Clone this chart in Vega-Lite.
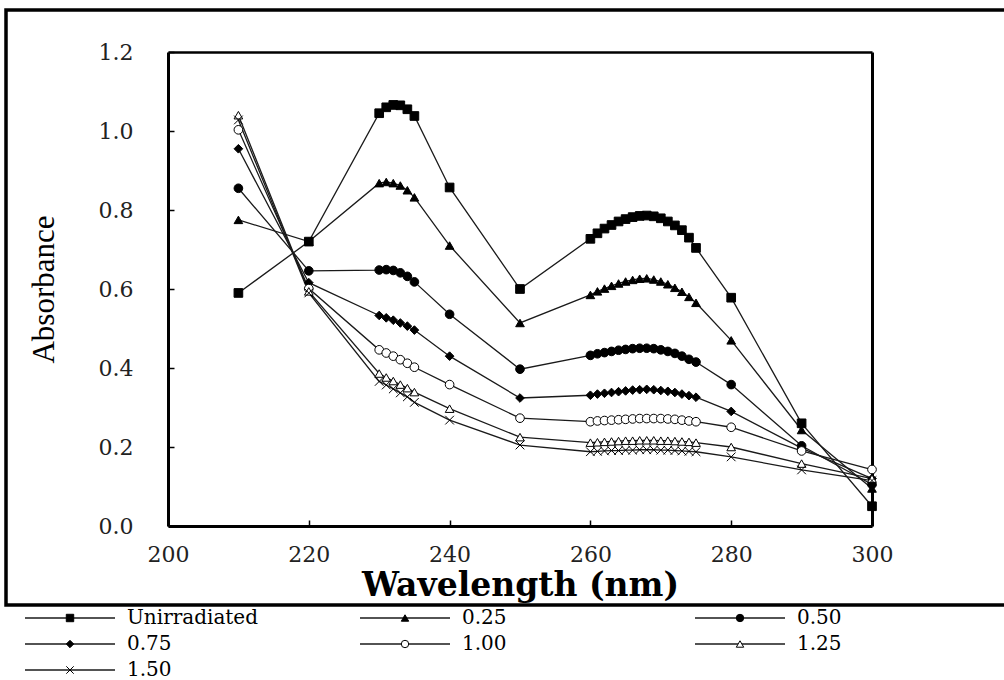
{
  "$schema": "https://vega.github.io/schema/vega-lite/v6.json",
  "width": 1004,
  "height": 595,
  "autosize": {"type": "none"},
  "padding": {"left": 6, "top": 10, "right": 0, "bottom": 75},
  "background": "white",
  "config": {
    "view": {"stroke": "black", "strokeWidth": 3.5, "fill": null},
    "axis": {"grid": false, "labelFlush": false}
  },
  "data": {"values": [
    {"s":"Unirradiated","w":210,"a":0.59},{"s":"Unirradiated","w":220,"a":0.72},{"s":"Unirradiated","w":230,"a":1.045},{"s":"Unirradiated","w":231,"a":1.06},{"s":"Unirradiated","w":232,"a":1.066},{"s":"Unirradiated","w":233,"a":1.065},{"s":"Unirradiated","w":234,"a":1.055},{"s":"Unirradiated","w":235,"a":1.038},{"s":"Unirradiated","w":240,"a":0.857},{"s":"Unirradiated","w":250,"a":0.6},{"s":"Unirradiated","w":260,"a":0.727},{"s":"Unirradiated","w":261,"a":0.741},{"s":"Unirradiated","w":262,"a":0.753},{"s":"Unirradiated","w":263,"a":0.762},{"s":"Unirradiated","w":264,"a":0.771},{"s":"Unirradiated","w":265,"a":0.777},{"s":"Unirradiated","w":266,"a":0.782},{"s":"Unirradiated","w":267,"a":0.785},{"s":"Unirradiated","w":268,"a":0.786},{"s":"Unirradiated","w":269,"a":0.784},{"s":"Unirradiated","w":270,"a":0.779},{"s":"Unirradiated","w":271,"a":0.771},{"s":"Unirradiated","w":272,"a":0.761},{"s":"Unirradiated","w":273,"a":0.749},{"s":"Unirradiated","w":274,"a":0.73},{"s":"Unirradiated","w":275,"a":0.704},{"s":"Unirradiated","w":280,"a":0.578},{"s":"Unirradiated","w":290,"a":0.26},{"s":"Unirradiated","w":300,"a":0.05},
    {"s":"0.25","w":210,"a":0.775},{"s":"0.25","w":220,"a":0.72},{"s":"0.25","w":230,"a":0.868},{"s":"0.25","w":231,"a":0.871},{"s":"0.25","w":232,"a":0.868},{"s":"0.25","w":233,"a":0.862},{"s":"0.25","w":234,"a":0.85},{"s":"0.25","w":235,"a":0.832},{"s":"0.25","w":240,"a":0.71},{"s":"0.25","w":250,"a":0.514},{"s":"0.25","w":260,"a":0.585},{"s":"0.25","w":261,"a":0.594},{"s":"0.25","w":262,"a":0.601},{"s":"0.25","w":263,"a":0.608},{"s":"0.25","w":264,"a":0.614},{"s":"0.25","w":265,"a":0.619},{"s":"0.25","w":266,"a":0.623},{"s":"0.25","w":267,"a":0.626},{"s":"0.25","w":268,"a":0.627},{"s":"0.25","w":269,"a":0.624},{"s":"0.25","w":270,"a":0.619},{"s":"0.25","w":271,"a":0.612},{"s":"0.25","w":272,"a":0.603},{"s":"0.25","w":273,"a":0.593},{"s":"0.25","w":274,"a":0.58},{"s":"0.25","w":275,"a":0.565},{"s":"0.25","w":280,"a":0.47},{"s":"0.25","w":290,"a":0.243},{"s":"0.25","w":300,"a":0.095},
    {"s":"0.50","w":210,"a":0.855},{"s":"0.50","w":220,"a":0.646},{"s":"0.50","w":230,"a":0.648},{"s":"0.50","w":231,"a":0.649},{"s":"0.50","w":232,"a":0.647},{"s":"0.50","w":233,"a":0.641},{"s":"0.50","w":234,"a":0.632},{"s":"0.50","w":235,"a":0.618},{"s":"0.50","w":240,"a":0.536},{"s":"0.50","w":250,"a":0.397},{"s":"0.50","w":260,"a":0.432},{"s":"0.50","w":261,"a":0.436},{"s":"0.50","w":262,"a":0.439},{"s":"0.50","w":263,"a":0.442},{"s":"0.50","w":264,"a":0.445},{"s":"0.50","w":265,"a":0.447},{"s":"0.50","w":266,"a":0.449},{"s":"0.50","w":267,"a":0.45},{"s":"0.50","w":268,"a":0.45},{"s":"0.50","w":269,"a":0.449},{"s":"0.50","w":270,"a":0.446},{"s":"0.50","w":271,"a":0.442},{"s":"0.50","w":272,"a":0.437},{"s":"0.50","w":273,"a":0.43},{"s":"0.50","w":274,"a":0.422},{"s":"0.50","w":275,"a":0.415},{"s":"0.50","w":280,"a":0.358},{"s":"0.50","w":290,"a":0.203},{"s":"0.50","w":300,"a":0.105},
    {"s":"0.75","w":210,"a":0.955},{"s":"0.75","w":220,"a":0.616},{"s":"0.75","w":230,"a":0.533},{"s":"0.75","w":231,"a":0.527},{"s":"0.75","w":232,"a":0.521},{"s":"0.75","w":233,"a":0.514},{"s":"0.75","w":234,"a":0.506},{"s":"0.75","w":235,"a":0.496},{"s":"0.75","w":240,"a":0.43},{"s":"0.75","w":250,"a":0.324},{"s":"0.75","w":260,"a":0.331},{"s":"0.75","w":261,"a":0.334},{"s":"0.75","w":262,"a":0.336},{"s":"0.75","w":263,"a":0.338},{"s":"0.75","w":264,"a":0.34},{"s":"0.75","w":265,"a":0.342},{"s":"0.75","w":266,"a":0.344},{"s":"0.75","w":267,"a":0.345},{"s":"0.75","w":268,"a":0.346},{"s":"0.75","w":269,"a":0.345},{"s":"0.75","w":270,"a":0.343},{"s":"0.75","w":271,"a":0.341},{"s":"0.75","w":272,"a":0.338},{"s":"0.75","w":273,"a":0.334},{"s":"0.75","w":274,"a":0.33},{"s":"0.75","w":275,"a":0.326},{"s":"0.75","w":280,"a":0.29},{"s":"0.75","w":290,"a":0.197},{"s":"0.75","w":300,"a":0.12},
    {"s":"1.00","w":210,"a":1.003},{"s":"1.00","w":220,"a":0.601},{"s":"1.00","w":230,"a":0.446},{"s":"1.00","w":231,"a":0.438},{"s":"1.00","w":232,"a":0.43},{"s":"1.00","w":233,"a":0.421},{"s":"1.00","w":234,"a":0.412},{"s":"1.00","w":235,"a":0.402},{"s":"1.00","w":240,"a":0.358},{"s":"1.00","w":250,"a":0.273},{"s":"1.00","w":260,"a":0.264},{"s":"1.00","w":261,"a":0.266},{"s":"1.00","w":262,"a":0.267},{"s":"1.00","w":263,"a":0.268},{"s":"1.00","w":264,"a":0.269},{"s":"1.00","w":265,"a":0.27},{"s":"1.00","w":266,"a":0.271},{"s":"1.00","w":267,"a":0.272},{"s":"1.00","w":268,"a":0.272},{"s":"1.00","w":269,"a":0.272},{"s":"1.00","w":270,"a":0.272},{"s":"1.00","w":271,"a":0.271},{"s":"1.00","w":272,"a":0.27},{"s":"1.00","w":273,"a":0.268},{"s":"1.00","w":274,"a":0.266},{"s":"1.00","w":275,"a":0.264},{"s":"1.00","w":280,"a":0.25},{"s":"1.00","w":290,"a":0.19},{"s":"1.00","w":300,"a":0.143},
    {"s":"1.25","w":210,"a":1.04},{"s":"1.25","w":220,"a":0.594},{"s":"1.25","w":230,"a":0.386},{"s":"1.25","w":231,"a":0.376},{"s":"1.25","w":232,"a":0.367},{"s":"1.25","w":233,"a":0.358},{"s":"1.25","w":234,"a":0.349},{"s":"1.25","w":235,"a":0.339},{"s":"1.25","w":240,"a":0.297},{"s":"1.25","w":250,"a":0.225},{"s":"1.25","w":260,"a":0.211},{"s":"1.25","w":261,"a":0.212},{"s":"1.25","w":262,"a":0.213},{"s":"1.25","w":263,"a":0.214},{"s":"1.25","w":264,"a":0.215},{"s":"1.25","w":265,"a":0.216},{"s":"1.25","w":266,"a":0.216},{"s":"1.25","w":267,"a":0.217},{"s":"1.25","w":268,"a":0.217},{"s":"1.25","w":269,"a":0.217},{"s":"1.25","w":270,"a":0.216},{"s":"1.25","w":271,"a":0.216},{"s":"1.25","w":272,"a":0.215},{"s":"1.25","w":273,"a":0.214},{"s":"1.25","w":274,"a":0.213},{"s":"1.25","w":275,"a":0.211},{"s":"1.25","w":280,"a":0.2},{"s":"1.25","w":290,"a":0.158},{"s":"1.25","w":300,"a":0.12},
    {"s":"1.50","w":210,"a":1.028},{"s":"1.50","w":220,"a":0.59},{"s":"1.50","w":230,"a":0.366},{"s":"1.50","w":231,"a":0.357},{"s":"1.50","w":232,"a":0.347},{"s":"1.50","w":233,"a":0.337},{"s":"1.50","w":234,"a":0.327},{"s":"1.50","w":235,"a":0.313},{"s":"1.50","w":240,"a":0.268},{"s":"1.50","w":250,"a":0.205},{"s":"1.50","w":260,"a":0.188},{"s":"1.50","w":261,"a":0.189},{"s":"1.50","w":262,"a":0.19},{"s":"1.50","w":263,"a":0.191},{"s":"1.50","w":264,"a":0.191},{"s":"1.50","w":265,"a":0.192},{"s":"1.50","w":266,"a":0.192},{"s":"1.50","w":267,"a":0.193},{"s":"1.50","w":268,"a":0.193},{"s":"1.50","w":269,"a":0.193},{"s":"1.50","w":270,"a":0.192},{"s":"1.50","w":271,"a":0.192},{"s":"1.50","w":272,"a":0.191},{"s":"1.50","w":273,"a":0.19},{"s":"1.50","w":274,"a":0.189},{"s":"1.50","w":275,"a":0.188},{"s":"1.50","w":280,"a":0.175},{"s":"1.50","w":290,"a":0.142},{"s":"1.50","w":300,"a":0.115}
  ]},
  "layer": [
    {
      "mark": {"type": "line", "strokeWidth": 1.3},
      "encoding": {
        "x": {
          "field": "w", "type": "quantitative",
          "scale": {"domain": [200, 300], "range": [162, 866], "nice": false, "zero": false},
          "axis": {
            "orient": "bottom", "offset": -79,
            "values": [200, 220, 240, 260, 280, 300], "format": "d",
            "title": "Wavelength (nm)",
            "titleFont": "DejaVu Serif", "titleFontSize": 33, "titleFontWeight": "bold", "titleColor": "black", "titlePadding": 4,
            "labelFont": "DejaVu Serif", "labelFontSize": 22, "labelColor": "#222", "labelPadding": 24,
            "tickSize": -6, "tickColor": "black", "tickWidth": 1.5,
            "domainColor": "black", "domainWidth": 3
          }
        },
        "y": {
          "field": "a", "type": "quantitative",
          "scale": {"domain": [0, 1.2], "range": [516, 42], "nice": false, "zero": false},
          "axis": {
            "orient": "left", "offset": -162,
            "values": [0, 0.2, 0.4, 0.6, 0.8, 1.0, 1.2], "format": ".1f",
            "title": "Absorbance",
            "titleFont": "Liberation Serif", "titleFontSize": 31, "titleFontWeight": "normal", "titleColor": "black", "titlePadding": 38,
            "labelFont": "DejaVu Serif", "labelFontSize": 22, "labelColor": "#222", "labelPadding": 41,
            "tickSize": -6, "tickColor": "black", "tickWidth": 1.5,
            "domainColor": "black", "domainWidth": 3
          }
        },
        "color": {
          "field": "s", "type": "nominal",
          "sort": ["Unirradiated", "0.25", "0.50", "0.75", "1.00", "1.25", "1.50"],
          "scale": {"range": ["#1a1a1a", "#1a1a1a", "#1a1a1a", "#1a1a1a", "#1a1a1a", "#1a1a1a", "#1a1a1a"]},
          "legend": {
            "orient": "none", "direction": "horizontal", "legendX": 4, "legendY": 598, "columns": 3, "title": null,
            "symbolType": "M-15,0H15", "symbolSize": 36, "symbolStrokeWidth": 1.3, "symbolOffset": 50,
            "labelOffset": 47, "labelFont": "DejaVu Serif", "labelFontSize": 20, "labelColor": "black",
            "rowPadding": 6, "columnPadding": 87, "gridAlign": "all", "padding": 0
          }
        }
      }
    },
    {
      "mark": {"type": "point", "filled": true, "strokeWidth": 1, "opacity": 1, "size": 75},
      "encoding": {
        "x": {"field": "w", "type": "quantitative", "axis": {"orient": "top", "offset": -42, "labels": false, "ticks": false, "title": null, "domainColor": "black", "domainWidth": 2.5}},
        "y": {"field": "a", "type": "quantitative", "axis": {"orient": "right", "offset": -138, "labels": false, "ticks": false, "title": null, "domainColor": "black", "domainWidth": 3}},
        "fill": {
          "field": "s", "type": "nominal",
          "scale": {"domain": ["Unirradiated", "0.25", "0.50", "0.75", "1.00", "1.25", "1.50"], "range": ["black", "black", "black", "black", "white", "white", "white"]},
          "legend": {
            "orient": "none", "direction": "horizontal", "legendX": 4, "legendY": 598, "columns": 3, "title": null,
            "symbolSize": 55, "symbolStrokeWidth": 1, "symbolOffset": 50,
            "labelOffset": 47, "labelFont": "DejaVu Serif", "labelFontSize": 20, "labelOpacity": 0,
            "rowPadding": 6, "columnPadding": 87, "gridAlign": "all", "padding": 0
          }
        },
        "stroke": {
          "field": "s", "type": "nominal",
          "scale": {"domain": ["Unirradiated", "0.25", "0.50", "0.75", "1.00", "1.25", "1.50"], "range": ["black", "black", "black", "black", "black", "black", "black"]},
          "legend": {
            "orient": "none", "direction": "horizontal", "legendX": 4, "legendY": 598, "columns": 3, "title": null,
            "symbolSize": 55, "symbolStrokeWidth": 1, "symbolOffset": 50,
            "labelOffset": 47, "labelFont": "DejaVu Serif", "labelFontSize": 20, "labelOpacity": 0,
            "rowPadding": 6, "columnPadding": 87, "gridAlign": "all", "padding": 0
          }
        },
        "shape": {
          "field": "s", "type": "nominal",
          "scale": {"domain": ["Unirradiated", "0.25", "0.50", "0.75", "1.00", "1.25", "1.50"], "range": ["square", "triangle-up", "circle", "diamond", "circle", "triangle-up", "M-1,-1L1,1M-1,1L1,-1"]},
          "legend": {
            "orient": "none", "direction": "horizontal", "legendX": 4, "legendY": 598, "columns": 3, "title": null,
            "symbolSize": 55, "symbolStrokeWidth": 1, "symbolOffset": 50,
            "labelOffset": 47, "labelFont": "DejaVu Serif", "labelFontSize": 20, "labelOpacity": 0,
            "rowPadding": 6, "columnPadding": 87, "gridAlign": "all", "padding": 0
          }
        }
      }
    }
  ],
  "resolve": {"axis": {"x": "independent", "y": "independent"}}
}
